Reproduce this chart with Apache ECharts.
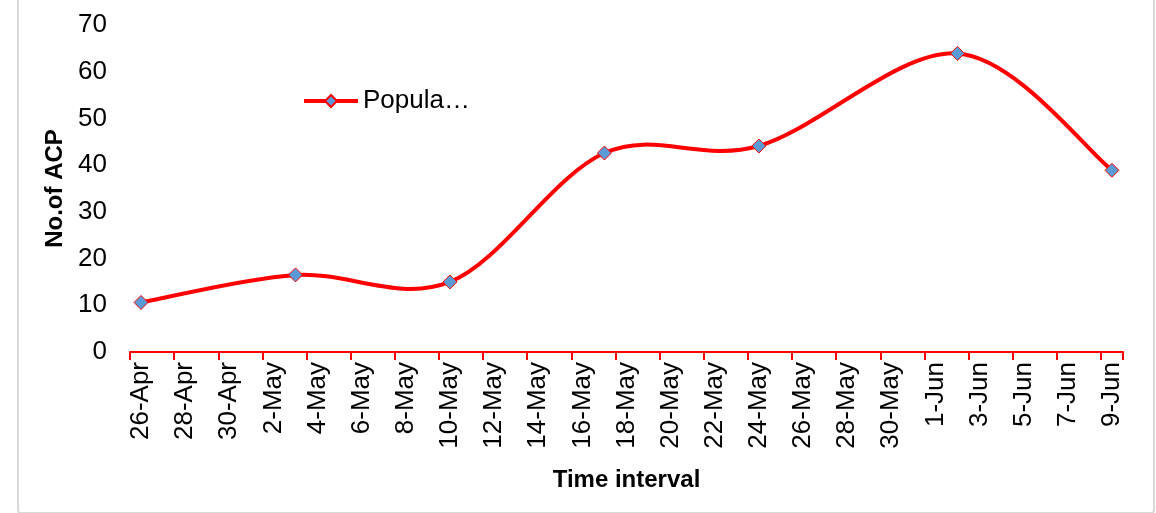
<!DOCTYPE html>
<html>
<head>
<meta charset="utf-8">
<script src="https://cdn.jsdelivr.net/npm/echarts@6/dist/echarts.min.js"></script>
<style>
  html, body { margin: 0; padding: 0; background: #fff; }
  .wrap { position: relative; width: 1156px; height: 513px; overflow: hidden; }
  .acp-chart { width: 1156px; height: 513px; }
  .frame {
    position: absolute; left: 17px; top: -4px; width: 1134px; height: 514px;
    border: 2px solid #d9d9d9; border-radius: 4px; pointer-events: none;
  }
</style>
</head>
<body>
<div class="wrap">
  <div class="acp-chart" id="chart"></div>
  <div class="frame"></div>
</div>
<script>
// every day from 26-Apr to 9-Jun, labels shown on every second day
const days = [
  '26-Apr', '27-Apr', '28-Apr', '29-Apr', '30-Apr', '1-May', '2-May', '3-May',
  '4-May', '5-May', '6-May', '7-May', '8-May', '9-May', '10-May', '11-May',
  '12-May', '13-May', '14-May', '15-May', '16-May', '17-May', '18-May', '19-May',
  '20-May', '21-May', '22-May', '23-May', '24-May', '25-May', '26-May', '27-May',
  '28-May', '29-May', '30-May', '31-May', '1-Jun', '2-Jun', '3-Jun', '4-Jun',
  '5-Jun', '6-Jun', '7-Jun', '8-Jun', '9-Jun'
]
const sampleDays = ['26-Apr', '3-May', '10-May', '17-May', '24-May', '2-Jun', '9-Jun']
const acpValues = [10.6, 16.5, 15.0, 42.6, 44.1, 63.9, 38.9]
const yTicks = { min: 0, max: 70, interval: 10 }

const FONT = '"Liberation Sans", Arial, sans-serif'
const RED = '#ff0000'

// points sit on the day index, so the hidden value axis spans the category bands
const getSeriesData = () => {
  return sampleDays.map((d, i) => [days.indexOf(d), acpValues[i]])
}

// excel style smoothed line: catmull-rom segments in pixel space
const renderCurve = (params, api) => {
  if (params.dataIndex !== 0) return null
  let pts = getSeriesData().map(d => api.coord(d))
  let children = []
  for (let i = 0; i < pts.length - 1; i++) {
    let p0 = pts[Math.max(i - 1, 0)]
    let p1 = pts[i]
    let p2 = pts[i + 1]
    let p3 = pts[Math.min(i + 2, pts.length - 1)]
    children.push({
      type: 'bezierCurve',
      shape: {
        x1: p1[0], y1: p1[1],
        x2: p2[0], y2: p2[1],
        cpx1: p1[0] + (p2[0] - p0[0]) / 6,
        cpy1: p1[1] + (p2[1] - p0[1]) / 6,
        cpx2: p2[0] - (p3[0] - p1[0]) / 6,
        cpy2: p2[1] - (p3[1] - p1[1]) / 6
      },
      style: { fill: null, stroke: RED, lineWidth: 4, lineCap: 'round' }
    })
  }
  return { type: 'group', children: children }
}

const OPT = {
  animation: false,
  textStyle: { fontFamily: FONT },
  legend: {
    left: 302,
    top: 88,
    padding: 0,
    itemWidth: 54,
    itemHeight: 15,
    itemGap: 6,
    lineStyle: { color: RED, width: 4, opacity: 1 },
    textStyle: { fontFamily: FONT, fontSize: 26, color: '#000' },
    data: ['Popula…']
  },
  grid: {
    left: 130,
    right: 33,
    top: 25,
    bottom: 161
  },
  xAxis: [
    {
      type: 'category',
      boundaryGap: true,
      data: days,
      name: 'Time interval',
      nameLocation: 'middle',
      nameGap: 116,
      nameTextStyle: { fontFamily: FONT, fontSize: 24, fontWeight: 'bold', color: '#000' },
      axisLine: { lineStyle: { color: RED, width: 2 } },
      axisTick: { show: true, interval: 1, length: 8, lineStyle: { color: RED, width: 2 } },
      axisLabel: {
        interval: 1,
        rotate: 90,
        margin: 10,
        fontFamily: FONT,
        fontSize: 26,
        color: '#000'
      },
      splitLine: { show: false }
    },
    {
      type: 'value',
      show: false,
      min: -0.5,
      max: days.length - 0.5,
      splitLine: { show: false }
    }
  ],
  yAxis: {
    type: 'value',
    min: yTicks.min,
    max: yTicks.max,
    interval: yTicks.interval,
    name: 'No.of ACP',
    nameLocation: 'middle',
    nameGap: 60,
    nameTextStyle: { fontFamily: FONT, fontSize: 24, fontWeight: 'bold', color: '#000' },
    axisLine: { show: false },
    axisTick: { show: false },
    axisLabel: { margin: 23, fontFamily: FONT, fontSize: 26, color: '#000' },
    splitLine: { show: false }
  },
  series: [
    {
      name: 'curve',
      type: 'custom',
      xAxisIndex: 1,
      z: 1,
      renderItem: renderCurve,
      data: getSeriesData()
    },
    {
      name: 'Popula…',
      type: 'line',
      xAxisIndex: 1,
      z: 3,
      data: getSeriesData(),
      showAllSymbol: true,
      symbol: 'diamond',
      symbolSize: 14,
      lineStyle: { color: RED, width: 4, opacity: 0 },
      itemStyle: { color: '#5b9bd5', borderColor: RED, borderWidth: 1 }
    }
  ]
}

const chart = echarts.init(document.getElementById('chart'))
chart.setOption(OPT)
</script>
</body>
</html>
